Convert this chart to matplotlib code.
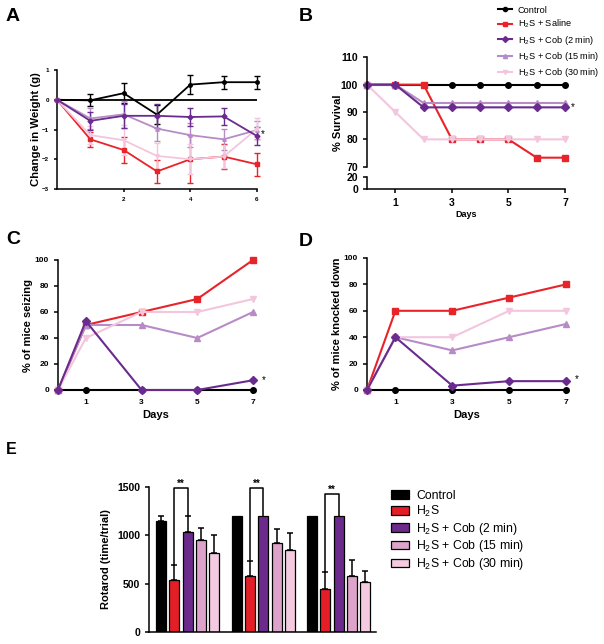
import matplotlib
matplotlib.use("Agg")
import matplotlib.pyplot as plt
from matplotlib.patches import Patch
from matplotlib.lines import Line2D
import numpy as np

plt.rcParams['font.family'] = ['Liberation Sans', 'DejaVu Sans']
plt.rcParams['mathtext.default'] = 'regular'
plt.rcParams['axes.linewidth'] = 1.1

# ---- data ----
labels = ['Control', 'H$_2$S + Saline', 'H$_2$S + Cob (2 min)',
          'H$_2$S + Cob (15 min)', 'H$_2$S + Cob (30 min)']
bar_labels = ['Control', 'H$_2$S', 'H$_2$S + Cob (2 min)',
              'H$_2$S + Cob (15 min)', 'H$_2$S + Cob (30 min)']
colors = ['#000000', '#E8232A', '#6A2B8E', '#B78CC6', '#F3C6DE']
bar_colors = ['#000000', '#E41E26', '#6B2A8C', '#DDA3CB', '#F4CAE1']
markers = ['o', 's', 'D', '^', 'v']

# A: change in weight
days_a = [0, 1, 2, 3, 4, 5, 6]
weight = [
    [0, -0.02, 0.22, -0.50, 0.51, 0.59, 0.59],
    [0, -1.33, -1.69, -2.41, -2.00, -1.91, -2.17],
    [0, -0.71, -0.54, -0.54, -0.58, -0.56, -1.22],
    [0, -0.63, -0.49, -0.97, -1.19, -1.33, -1.02],
    [0, -1.19, -1.36, -1.89, -2.00, -1.91, -0.98],
]
weight_err = [
    [0, 0.20, 0.33, 0.33, 0.33, 0.22, 0.22],
    [0, 0.25, 0.44, 0.40, 0.80, 0.42, 0.38],
    [0, 0.30, 0.40, 0.40, 0.31, 0.29, 0.30],
    [0, 0.35, 0.45, 0.40, 0.40, 0.35, 0.30],
    [0, 0.30, 0.50, 0.45, 0.50, 0.40, 0.38],
]

# B: survival
days_b = [0, 1, 2, 3, 4, 5, 6, 7]
survival = [
    [100, 100, 100, 100, 100, 100, 100, 100],
    [100, 100, 100, 80, 80, 80, 73.3, 73.3],
    [100, 100, 91.7, 91.7, 91.7, 91.7, 91.7, 91.7],
    [100, 100, 93.3, 93.3, 93.3, 93.3, 93.3, 93.3],
    [100, 90, 80, 80, 80, 80, 80, 80],
]

# C / D
days_cd = [0, 1, 3, 5, 7]
seizing = [
    [0, 0, 0, 0, 0],
    [0, 50, 60, 70, 100],
    [0, 53, 0, 0, 7.5],
    [0, 50, 50, 40, 60],
    [0, 40, 60, 60, 70],
]
knocked = [
    [0, 0, 0, 0, 0],
    [0, 60, 60, 70, 80],
    [0, 40, 3.3, 6.7, 6.7],
    [0, 40, 30, 40, 50],
    [0, 40, 40, 60, 60],
]

# E: rotarod (3 trials x 5 groups)
rotarod = [
    [1150, 540, 1030, 950, 820],
    [1200, 575, 1200, 925, 845],
    [1200, 445, 1200, 585, 520],
]
rotarod_err = [
    [50, 150, 170, 125, 185],
    [0, 160, 0, 140, 175],
    [0, 175, 0, 155, 115],
]
bracket_top = [1483, 1483, 1421]

order = [0, 1, 3, 4, 2]
W, H = 604, 644
fig = plt.figure(figsize=(W / 100, H / 100), dpi=100)


def px_axes(l, t, r, b):
    return fig.add_axes([l / W, 1 - b / H, (r - l) / W, (b - t) / H])


def style(ax, fs):
    ax.spines['top'].set_visible(False)
    ax.spines['right'].set_visible(False)
    ax.tick_params(labelsize=fs, width=1.1, length=3)
    for lab in ax.get_xticklabels() + ax.get_yticklabels():
        lab.set_fontweight('bold')


# ---- A ----
axA = px_axes(57, 70, 257, 189)
axA.axhline(0, color='k', lw=1.3, zorder=1)
for i in order:
    axA.errorbar(days_a, weight[i], yerr=weight_err[i], color=colors[i],
                 marker=markers[i], ms=2.5, lw=1.3, capsize=2, elinewidth=1,
                 capthick=1, clip_on=False, zorder=3)
axA.set_xlim(0, 6)
axA.set_ylim(-3, 1)
axA.set_xticks([2, 4, 6])
axA.set_yticks([1, 0, -1, -2, -3])
style(axA, 4.5)
axA.tick_params(length=2)
axA.set_ylabel('Change in Weight (g)', fontsize=8.2, fontweight='bold', labelpad=1)
axA.text(6.12, -1.15, '*', fontsize=7, va='center')

# ---- B ----
axB = px_axes(367, 57.3, 565, 166.7)
axB2 = px_axes(367, 176.7, 565, 189.3)
for i in order:
    axB.plot(days_b, survival[i], color=colors[i], marker=markers[i],
             ms=4, lw=1.5, clip_on=False)
handles = [Line2D([], [], color=colors[i], marker=markers[i], ms=3, lw=1.5)
           for i in range(5)]
axB.set_xlim(0, 7)
axB.set_ylim(70, 110)
axB.set_yticks([70, 80, 90, 100, 110])
axB.spines['bottom'].set_visible(False)
axB.tick_params(axis='x', bottom=False, labelbottom=False)
style(axB, 7.5)
axB2.set_xlim(0, 7)
axB2.set_ylim(0, 20)
axB2.set_yticks([0, 20])
axB2.set_xticks([1, 3, 5, 7])
style(axB2, 7.5)
axB2.set_xlabel('Days', fontsize=6.5, fontweight='bold', labelpad=1.5)
fig.text(338 / W, 1 - 123 / H, '% Survival', rotation=90, fontsize=8,
         fontweight='bold', ha='center', va='center')
axB.text(7.2, 91.7, '*', fontsize=7, va='center')
fig.legend(handles, labels, loc='upper left', bbox_to_anchor=(494 / W, 1 - 2 / H),
           frameon=False, fontsize=6.6, handlelength=1.6, labelspacing=0.35,
           handletextpad=0.6, borderaxespad=0)

# ---- C / D ----
for ax_box, data, ylab in [((58, 260, 253, 390), seizing, '% of mice seizing'),
                           ((367, 258, 566, 390), knocked, '% of mice knocked down')]:
    ax = px_axes(*ax_box)
    for i in order:
        ax.plot(days_cd, data[i], color=colors[i], marker=markers[i], ms=4,
                lw=1.5, clip_on=False, zorder=3)
    ax.set_xlim(0, 7)
    ax.set_ylim(0, 100)
    ax.set_xticks([1, 3, 5, 7])
    ax.set_yticks([0, 20, 40, 60, 80, 100])
    style(ax, 6)
    ax.set_xlabel('Days', fontsize=8, fontweight='bold', labelpad=3)
    ax.set_ylabel(ylab, fontsize=8, fontweight='bold', labelpad=1.5)
    ax.text(7.3, 8, '*', fontsize=7, va='center')

# ---- E ----
axE = px_axes(149, 486.7, 376, 632.3)
step, bw = 0.176, 0.1325
for g in range(3):
    for j in range(5):
        x = g + (j - 2) * step
        err = rotarod_err[g][j]
        axE.bar(x, rotarod[g][j], width=bw, color=bar_colors[j],
                edgecolor='k', linewidth=0.9, zorder=2)
        if err > 0:
            axE.errorbar(x, rotarod[g][j], yerr=[[0], [err]], color='k',
                         lw=1.1, capsize=2.5, capthick=1.1, zorder=3)
    # significance bracket between H2S and Cob (2 min)
    x1, x2 = g - step, g
    top = bracket_top[g]
    y1 = rotarod[g][1] + rotarod_err[g][1]
    y2 = rotarod[g][2] + rotarod_err[g][2]
    axE.plot([x1, x1, x2, x2], [y1, top, top, y2], color='k', lw=1.1, zorder=4,
             clip_on=False)
    axE.text((x1 + x2) / 2, top - 10, '**', ha='center', va='bottom',
             fontsize=7, fontweight='bold')
axE.set_xlim(-0.513, 2.494)
axE.set_ylim(0, 1500)
axE.set_yticks([0, 500, 1000, 1500])
axE.set_xticks([])
style(axE, 7.5)
axE.set_ylabel('Rotarod (time/trial)', fontsize=8, fontweight='bold', labelpad=4)
patches = [Patch(facecolor=bar_colors[j], edgecolor='k', linewidth=0.9)
           for j in range(5)]
fig.legend(patches, bar_labels, loc='upper left', bbox_to_anchor=(386 / W, 1 - 485 / H),
           frameon=False, fontsize=8.8, handlelength=1.45, handleheight=0.68,
           labelspacing=0.15, handletextpad=0.6, borderaxespad=0)

# ---- panel letters ----
for letter, x, y, fs in [('A', 6, 8, 14), ('B', 299, 8, 14), ('C', 6, 231, 14),
                         ('D', 299, 233, 14), ('E', 6, 442, 11.5)]:
    fig.text(x / W, 1 - y / H, letter, fontsize=fs, fontweight='bold',
             ha='left', va='top')

fig.savefig('out.png', dpi=100)
